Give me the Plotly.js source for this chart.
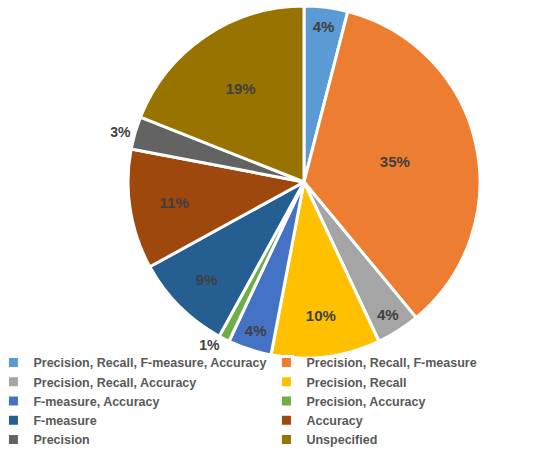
<!DOCTYPE html>
<html><head><meta charset="utf-8">
<script src="https://cdn.plot.ly/plotly-3.0.1.min.js"></script>
<style>html,body{margin:0;padding:0;background:#fff;overflow:hidden}#chart{width:547px;height:449px}</style>
</head><body><div id="chart"></div>
<script>
const categories = ["Precision, Recall, F-measure, Accuracy","Precision, Recall, F-measure","Precision, Recall, Accuracy","Precision, Recall","F-measure, Accuracy","Precision, Accuracy","F-measure","Accuracy","Precision","Unspecified"];
const shares = [4,35,4,10,4,1,9,11,3,19];
const colors = ["#5B9BD5","#ED7D31","#A5A5A5","#FFC000","#4472C4","#70AD47","#255E91","#9E480E","#636363","#997300"];
const labelsText = shares.map(v => v + "%");

const trace = {
  type: "pie",
  labels: categories,
  values: shares,
  text: labelsText,
  textinfo: "text",
  sort: false,
  direction: "clockwise",
  rotation: 0,
  marker: {colors: colors, line: {color: "#ffffff", width: 3}},
  textposition: shares.map(v => v < 4 ? "outside" : "inside"),
  insidetextorientation: "horizontal",
  textfont: {family: "Liberation Sans, Arial, sans-serif", size: 15, color: "#404040", weight: "bold"},
  outsidetextfont: {family: "Liberation Sans, Arial, sans-serif", size: 14, color: "#404040", weight: "bold"},
  domain: {x: [0.234, 0.8775], y: [0.2027, 0.9866]},
  hoverinfo: "label+percent"
};

const layout = {
  width: 547, height: 449,
  margin: {l: 0, r: 0, t: 0, b: 0, autoexpand: false},
  paper_bgcolor: "#ffffff",
  showlegend: true,
  legend: {
    orientation: "h", x: -0.012, xanchor: "left", y: -0.013, yanchor: "bottom",
    bgcolor: "rgba(0,0,0,0)",
    entrywidth: 228, entrywidthmode: "pixels",
    font: {family: "Liberation Sans, Arial, sans-serif", size: 12.5, color: "#595959", weight: "bold"},
    itemwidth: 30, tracegroupgap: 0, traceorder: "normal"
  },
  font: {family: "Liberation Sans, Arial, sans-serif"}
};

Plotly.newPlot("chart", [trace], layout, {displayModeBar: false, staticPlot: true});
</script>
</body></html>
